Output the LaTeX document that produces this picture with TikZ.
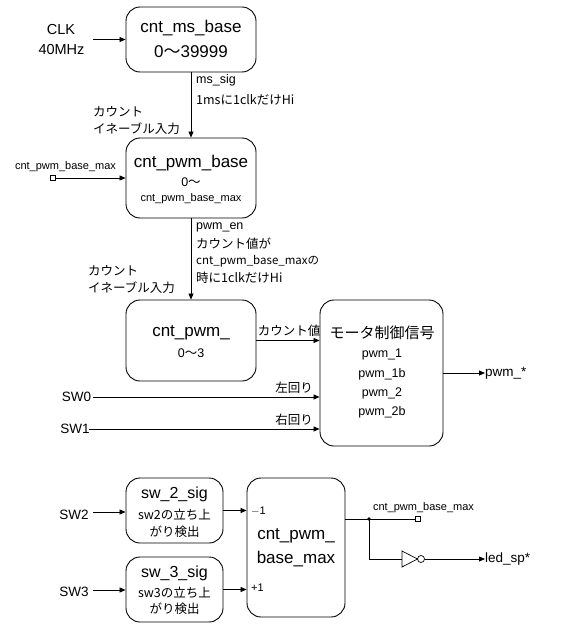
\documentclass[tikz,border=0pt]{standalone}
\usepackage{fontspec}
\setmainfont{Liberation Sans}
\newfontfamily\jp{Noto Sans CJK JP}
\usetikzlibrary{arrows.meta}
\newcommand{\wv}{{\jp 〜}}
\begin{document}
\begin{tikzpicture}[x=1pt,y=-1pt,
  blk/.style={draw, rounded corners=14pt, line width=0.9pt, inner sep=0pt},
  arr/.style={-{Triangle[length=6pt,width=5pt]}, line width=0.8pt},
  ln/.style={line width=0.8pt},
  txt/.style={inner sep=0pt, anchor=center},
  big/.style={font=\fontsize{17}{20}\selectfont},
  mid/.style={font=\fontsize{13.5}{16}\selectfont},
  sm/.style={font=\fontsize{12.5}{15}\selectfont},
  jsm/.style={font=\fontsize{12.5}{15}\selectfont\jp},
  tiny/.style={font=\fontsize{11}{13}\selectfont},
  sq/.style={draw, line width=0.8pt, fill=white, minimum size=5pt, inner sep=0pt},
]
\useasboundingbox (0,0) rectangle (567,634);

% boxes
\node[blk, minimum width=130pt, minimum height=65pt] (ms) at (191,39.5) {};
\node[blk, minimum width=130pt, minimum height=80pt] (pb) at (191,178) {};
\node[blk, minimum width=130pt, minimum height=81pt] (cp) at (191,340.5) {};
\node[blk, minimum width=123pt, minimum height=146pt] (mot) at (381.5,373) {};
\node[blk, minimum width=97pt, minimum height=65pt] (s2) at (174.5,510.5) {};
\node[blk, minimum width=97pt, minimum height=65pt] (s3) at (174.5,589.5) {};
\node[blk, minimum width=98pt, minimum height=139pt] (mx) at (296,547.5) {};

% box texts
\node[txt,big] (t1a) at (191,28) {cnt\_ms\_base};
\node[txt,big] (t1b) at (191,52) {0\wv39999};
\node[txt,big] (t2a) at (191,163) {cnt\_pwm\_base};
\node[txt,sm] (t2b) at (191,182) {0\wv};
\node[txt,tiny] (t2c) at (191,199) {cnt\_pwm\_base\_max};
\node[txt,big] (t3a) at (191,333) {cnt\_pwm\_};
\node[txt,sm] (t3b) at (191,353) {0\wv3};
\node[txt,font=\fontsize{15}{18}\selectfont\jp] (m0) at (382,333) {モータ制御信号};
\node[txt,sm] (m1) at (382,354) {pwm\_1};
\node[txt,sm] (m2) at (382,374) {pwm\_1b};
\node[txt,sm] (m3) at (382,393) {pwm\_2};
\node[txt,sm] (m4) at (382,412) {pwm\_2b};
\node[txt,font=\fontsize{16}{19}\selectfont] (s2a) at (174.5,494) {sw\_2\_sig};
\node[txt,jsm] (s2b) at (174.5,515) {sw2の立ち上};
\node[txt,jsm] (s2c) at (174.5,532) {がり検出};
\node[txt,font=\fontsize{16}{19}\selectfont] (s3a) at (174.5,573) {sw\_3\_sig};
\node[txt,jsm] (s3b) at (174.5,593) {sw3の立ち上};
\node[txt,jsm] (s3c) at (174.5,609) {がり検出};
\node[txt,big] (mxa) at (296,536) {cnt\_pwm\_};
\node[txt,big] (mxb) at (296,559) {base\_max};
\node[txt,tiny,anchor=west] (mn) at (251,511) {$-$1};
\node[txt,tiny,anchor=west] (mp) at (251,588) {+1};

% outer labels
\node[txt,font=\fontsize{14.5}{17}\selectfont] (clk) at (61,30) {CLK};
\node[txt,font=\fontsize{14.5}{17}\selectfont] (mhz) at (61.5,50) {40MHz};
\coordinate (clkin) at (93,39.5);
\node[txt,sm,anchor=west] (mss) at (196,80) {ms\_sig};
\node[txt,jsm,anchor=west] (mst) at (196,100) {1msに1clkだけHi};
\node[txt,jsm,anchor=west] (ce1) at (93,112) {カウント};
\node[txt,jsm,anchor=west] (ce2) at (93,129) {イネーブル入力};
\node[txt,tiny] (lmax) at (65.5,167) {cnt\_pwm\_base\_max};
\node[sq] (sq1) at (53,178) {};
\node[txt,sm,anchor=west] (pen) at (196,227) {pwm\_en};
\node[txt,jsm,anchor=west] (pe2) at (196,244) {カウント値が};
\node[txt,font=\fontsize{11.5}{14}\selectfont\jp,anchor=west] (pe3) at (196,261) {cnt\_pwm\_base\_maxの};
\node[txt,jsm,anchor=west] (pe4) at (196,278) {時に1clkだけHi};
\node[txt,jsm,anchor=west] (ce3) at (88,271) {カウント};
\node[txt,jsm,anchor=west] (ce4) at (88,288) {イネーブル入力};
\node[txt,jsm] (cv) at (289,331) {カウント値};
\node[txt,jsm] (lr) at (294,388) {左回り};
\node[txt,jsm] (rr) at (294,420) {右回り};
\node[txt,mid] (sw0) at (76.5,397) {SW0};
\node[txt,mid] (sw1) at (75,429) {SW1};
\node[txt,mid,anchor=west] (pout) at (485,373) {pwm\_*};
\node[txt,mid] (sw2) at (74,515) {SW2};
\node[txt,mid] (sw3) at (74,592) {SW3};
\node[txt,tiny] (rmax) at (423.5,508) {cnt\_pwm\_base\_max};
\node[sq] (sq2) at (418,519) {};
\node[txt,mid,anchor=west] (led) at (485,559) {led\_sp*};

% connectors
\draw[arr] (clkin) -- (ms.west);
\draw[arr] (ms.south) -- (pb.north);
\draw[arr] (sq1.east) -- (pb.west);
\draw[arr] (pb.south) -- (cp.north);
\draw[arr] (cp.east) -- (mot.west |- cp.east);
\draw[arr] (93,397) -- (mot.west |- sw0);
\draw[arr] (89,429) -- (mot.west |- sw1);
\draw[arr] (mot.east) -- (pout.west);
\draw[arr] (93,512) -- (s2.west |- 0,512);
\draw[arr] (93,590) -- (s3.west |- 0,590);
\draw[arr] (s2.east) -- (mx.west |- s2.east);
\draw[arr] (s3.east) -- (mx.west |- s3.east);
\coordinate (dot) at (369,519);
\draw[ln] (mx.east |- dot) -- (sq2.west);
\fill (dot) circle (1.8pt);
\coordinate (inv) at (402,559);
\draw[ln] (dot) -- (dot |- inv) -- (inv);
\draw[line width=0.7pt] (inv) -- ++(0,-8) -- ++(15.5,8) -- ++(-15.5,8) -- cycle;
\node[draw, circle, line width=0.7pt, minimum size=7pt, inner sep=0pt] (bub) at (421,559) {};
\draw[arr] (bub.east) -- (led.west);
\end{tikzpicture}
\end{document}
